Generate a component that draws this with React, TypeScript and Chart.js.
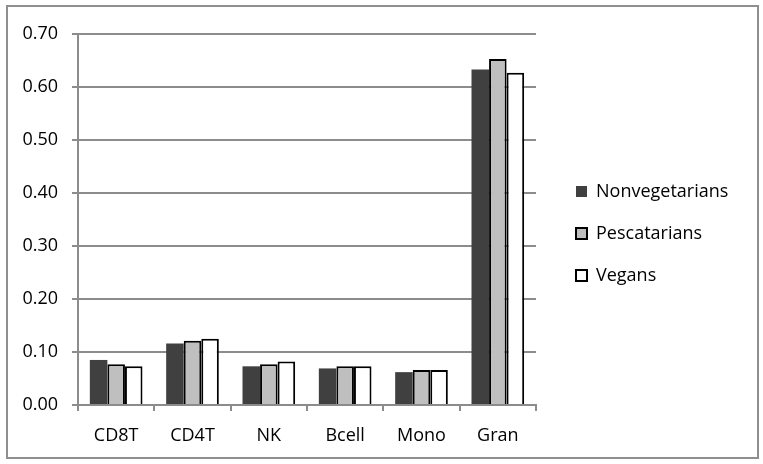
import React, { useEffect, useRef } from "react";
import { Chart, registerables } from "chart.js";

Chart.register(...registerables);

const categories = ["CD8T", "CD4T", "NK", "Bcell", "Mono", "Gran"];
const seriesNames = ["Nonvegetarians", "Pescatarians", "Vegans"];
const nonvegetarians = [0.085, 0.116, 0.073, 0.069, 0.062, 0.633];
const pescatarians = [0.077, 0.121, 0.077, 0.073, 0.066, 0.653];
const vegans = [0.073, 0.125, 0.082, 0.073, 0.066, 0.627];

const FONT = "'Open Sans', 'DejaVu Sans', sans-serif";
const GRID = "#8c8c8c";

const legendTweak = {
  id: "legendTweak",
  beforeLayout(chart: any) {
    const lg = chart.legend;
    if (lg && !lg.__patched) {
      const f = lg.fit;
      lg.fit = function (this: any) {
        f.call(this);
        this.width = 227;
      };
      lg.__patched = true;
    }
  },
  afterLayout(chart: any) {
    const lg = chart.legend;
    if (lg) {
      lg.left += 16;
      lg.right += 16;
    }
  },
};

export default function App() {
  const ref = useRef<HTMLCanvasElement | null>(null);

  useEffect(() => {
    if (!ref.current) return;
    const chart = new Chart(ref.current, {
      type: "bar",
      data: {
        labels: categories,
        datasets: [
          {
            label: seriesNames[0],
            data: nonvegetarians,
            backgroundColor: "#404040",
            borderColor: "#404040",
            borderWidth: 0,
          },
          {
            label: seriesNames[1],
            data: pescatarians,
            backgroundColor: "#bfbfbf",
            borderColor: "#000000",
            borderWidth: 2,
          },
          {
            label: seriesNames[2],
            data: vegans,
            backgroundColor: "#ffffff",
            borderColor: "#000000",
            borderWidth: 2,
          },
        ],
      },
      options: {
        animation: false,
        responsive: false,
        maintainAspectRatio: false,
        devicePixelRatio: 1,
        layout: { padding: { left: 0, top: 3, right: 0, bottom: 0 } },
        datasets: {
          bar: { categoryPercentage: 0.69, barPercentage: 1 },
        },
        plugins: {
          tooltip: { enabled: false },
          title: { display: false },
          legend: {
            display: true,
            position: "right",
            align: "center",
            labels: {
              boxWidth: 11,
              boxHeight: 11,
              padding: 24,
              color: "#000000",
              font: { family: FONT, size: 18 },
            },
          },
        },
        scales: {
          x: {
            type: "category",
            position: "bottom",
            offset: true,
            grid: {
              display: true,
              drawOnChartArea: false,
              drawTicks: true,
              tickLength: 6,
              offset: true,
              color: GRID,
              lineWidth: 2,
            },
            border: { display: true, color: GRID, width: 2 },
            ticks: {
              color: "#000000",
              font: { family: FONT, size: 18 },
              padding: 14,
              maxRotation: 0,
            },
            afterFit: (s: any) => {
              s.height = 59;
            },
          },
          xTop: {
            type: "category",
            position: "top",
            display: true,
            grid: { display: false, drawTicks: false },
            border: { display: false },
            ticks: { display: false },
            afterFit: (s: any) => {
              s.height = 31;
            },
          },
          y: {
            type: "linear",
            position: "left",
            min: 0,
            max: 0.7,
            grid: {
              display: true,
              drawOnChartArea: true,
              drawTicks: true,
              tickLength: 6,
              color: GRID,
              lineWidth: 2,
            },
            border: { display: true, color: GRID, width: 2 },
            ticks: {
              stepSize: 0.1,
              color: "#000000",
              font: { family: FONT, size: 18 },
              padding: 14,
              callback: (v: any) => Number(v).toFixed(2),
            },
            afterFit: (s: any) => {
              s.width = 78;
            },
          },
        },
      },
      plugins: [legendTweak],
    });
    return () => chart.destroy();
  }, []);

  return (
    <div
      style={{
        position: "fixed",
        left: 0,
        top: 0,
        width: 763,
        height: 464,
        background: "#ffffff",
      }}
    >
      <div
        style={{
          position: "absolute",
          left: 6,
          top: 5,
          width: 753,
          height: 454,
          boxSizing: "border-box",
          border: "2px solid #8f8f8f",
        }}
      />
      <canvas
        ref={ref}
        width={763}
        height={464}
        style={{ position: "absolute", left: 0, top: 0, width: 763, height: 464 }}
      />
    </div>
  );
}
